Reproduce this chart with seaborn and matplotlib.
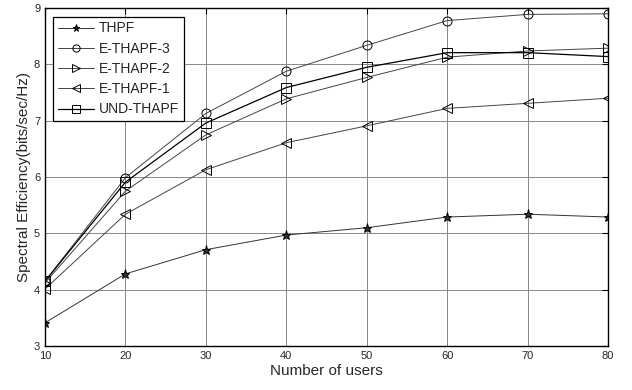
import numpy as np
import matplotlib
matplotlib.use("Agg")
import matplotlib.pyplot as plt
import pandas as pd
import seaborn as sns

# data
users = [10, 20, 30, 40, 50, 60, 70, 80]
thpf = [3.41, 4.28, 4.71, 4.97, 5.10, 5.29, 5.34, 5.29]
ethapf3 = [4.15, 5.99, 7.13, 7.88, 8.34, 8.78, 8.89, 8.90]
ethapf2 = [4.12, 5.75, 6.75, 7.39, 7.77, 8.13, 8.24, 8.29]
ethapf1 = [4.01, 5.34, 6.13, 6.61, 6.91, 7.22, 7.31, 7.40]
und_thapf = [4.15, 5.91, 6.96, 7.59, 7.95, 8.21, 8.21, 8.14]

series = {
    "THPF": thpf,
    "E-THAPF-3": ethapf3,
    "E-THAPF-2": ethapf2,
    "E-THAPF-1": ethapf1,
    "UND-THAPF": und_thapf,
}
markers = {"THPF": "*", "E-THAPF-3": "o", "E-THAPF-2": ">", "E-THAPF-1": "<", "UND-THAPF": "s"}
colors = {"THPF": "#333333", "E-THAPF-3": "#444444", "E-THAPF-2": "#444444",
          "E-THAPF-1": "#444444", "UND-THAPF": "#000000"}

rows = []
for name, vals in series.items():
    for u, v in zip(users, vals):
        rows.append({"users": u, "se": v, "scheme": name})
df = pd.DataFrame(rows)

sns.set_style("white")
plt.rcParams["font.family"] = ["Liberation Sans", "DejaVu Sans"]

fig = plt.figure(figsize=(6.32, 3.9), dpi=100)
ax = fig.add_axes([0.0712, 0.113, 0.891, 0.866])

for name in series:
    sub = df[df["scheme"] == name]
    sns.lineplot(data=sub, x="users", y="se", ax=ax, label=name,
                 color=colors[name], linewidth=0.9 if name == "UND-THAPF" else 0.7,
                 marker=markers[name], markersize=6.5,
                 markerfacecolor="#333333" if name == "THPF" else "none",
                 markeredgecolor="black", markeredgewidth=0.7)

ax.set_xlim(10, 80)
ax.set_ylim(3, 9)
ax.set_xticks(users)
ax.set_yticks([3, 4, 5, 6, 7, 8, 9])
ax.grid(True, color="#888888", linewidth=0.7)
ax.tick_params(direction="in", length=4, labelsize=8, top=True, right=True, color="black")
for sp in ax.spines.values():
    sp.set_color("black")
    sp.set_linewidth(1.0)
ax.set_xlabel("Number of users", fontsize=11, labelpad=2)
ax.set_ylabel("Spectral Efficiency(bits/sec/Hz)", fontsize=11, labelpad=2)

leg = ax.legend(loc="upper left", fontsize=10, frameon=True, fancybox=False,
                edgecolor="black", framealpha=1, borderaxespad=0.6,
                handlelength=2.6, labelspacing=0.45, borderpad=0.35, handletextpad=0.3,
                markerscale=0.8)
leg.get_frame().set_linewidth(0.9)

fig.savefig("out.png", dpi=100)
